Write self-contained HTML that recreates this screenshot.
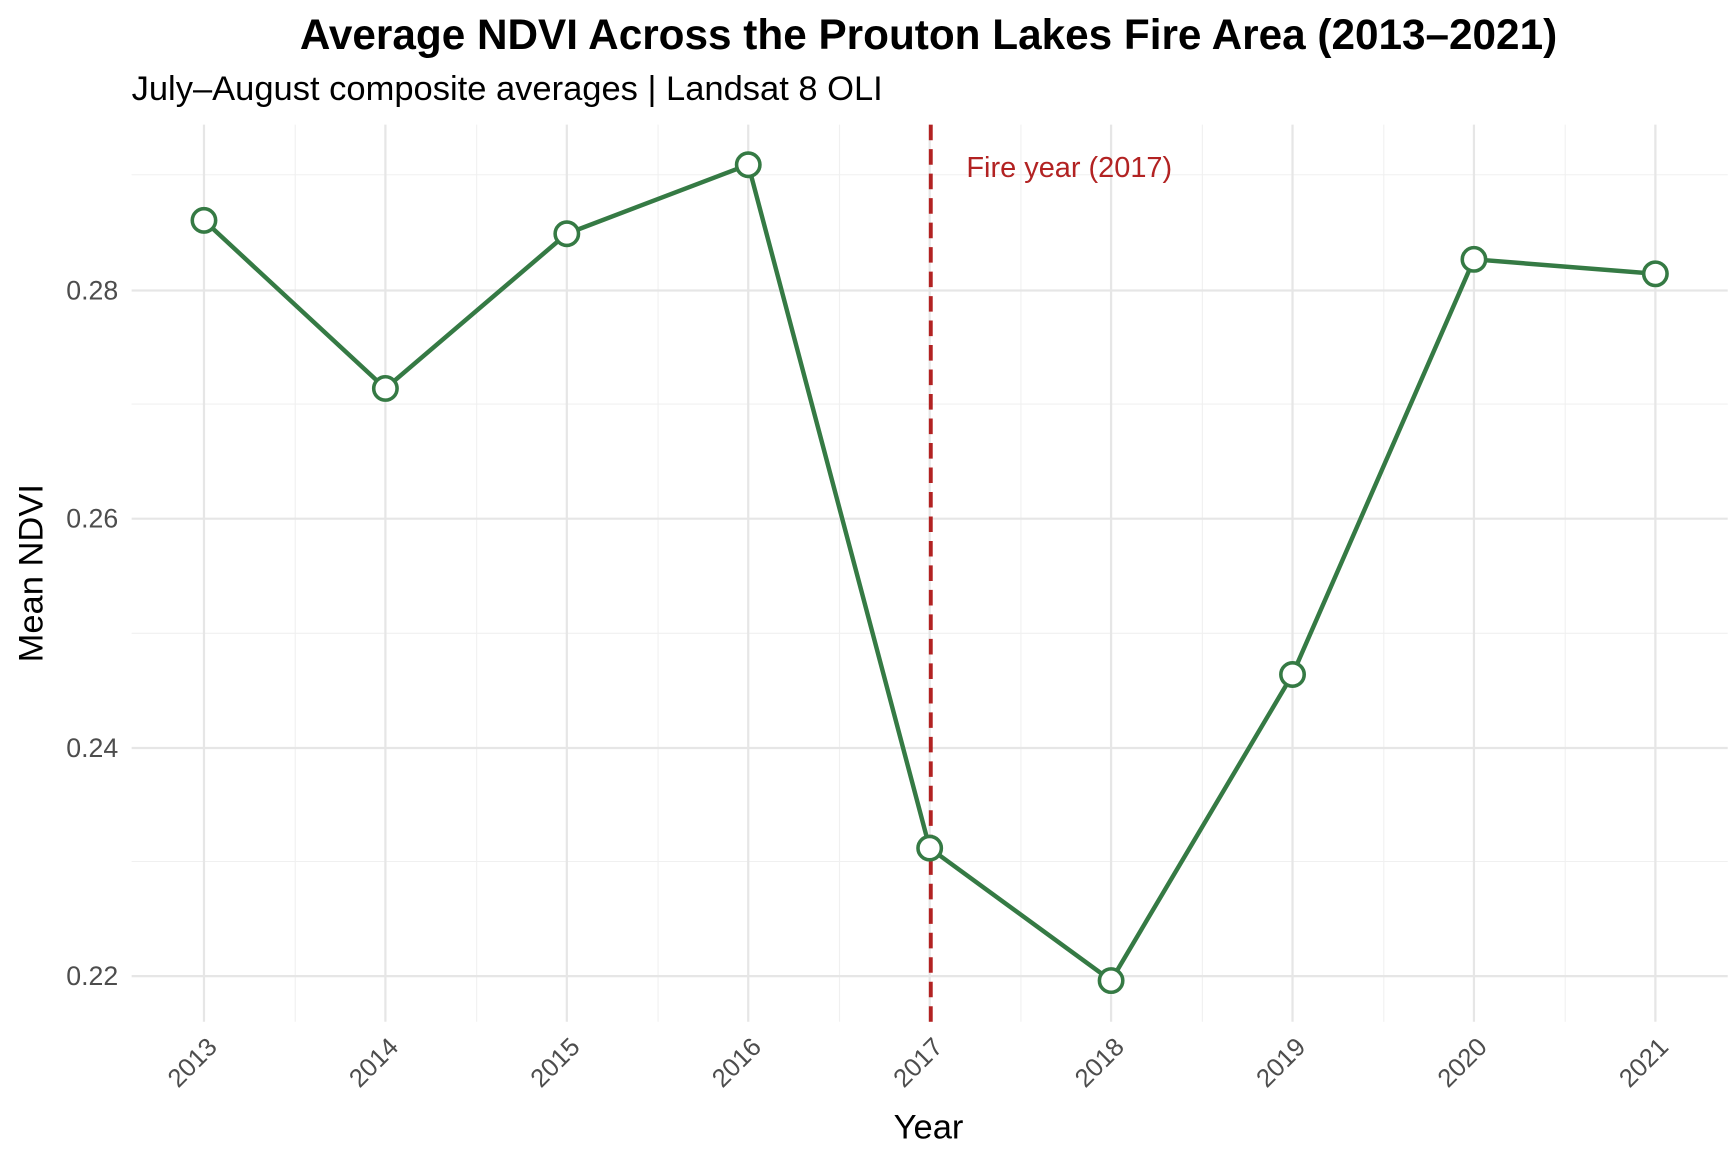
<!DOCTYPE html>
<html><head><style>html,body{margin:0;padding:0;background:#fff}svg{display:block}</style></head>
<body>
<svg width="1728" height="1152" viewBox="0 0 1552 1035" xmlns="http://www.w3.org/2000/svg" font-family="Liberation Sans, Arial, sans-serif">
<rect width="1552" height="1035" fill="#fff"/>
<g stroke="#f0f0f0" stroke-width="1">
<line x1="118" x2="1552" y1="157" y2="157"/><line x1="118" x2="1552" y1="363" y2="363"/><line x1="118" x2="1552" y1="569" y2="569"/><line x1="118" x2="1552" y1="774" y2="774"/>
<line x1="265" x2="265" y1="112" y2="918"/><line x1="428" x2="428" y1="112" y2="918"/><line x1="591" x2="591" y1="112" y2="918"/><line x1="754" x2="754" y1="112" y2="918"/><line x1="917" x2="917" y1="112" y2="918"/><line x1="1080" x2="1080" y1="112" y2="918"/><line x1="1243" x2="1243" y1="112" y2="918"/><line x1="1406" x2="1406" y1="112" y2="918"/>
</g>
<g stroke="#e6e6e6" stroke-width="2">
<line x1="118" x2="1552" y1="261" y2="261"/><line x1="118" x2="1552" y1="466" y2="466"/><line x1="118" x2="1552" y1="672" y2="672"/><line x1="118" x2="1552" y1="877" y2="877"/>
<line x1="183" x2="183" y1="112" y2="918"/><line x1="346" x2="346" y1="112" y2="918"/><line x1="509" x2="509" y1="112" y2="918"/><line x1="672" x2="672" y1="112" y2="918"/><line x1="835" x2="835" y1="112" y2="918"/><line x1="998" x2="998" y1="112" y2="918"/><line x1="1161" x2="1161" y1="112" y2="918"/><line x1="1324" x2="1324" y1="112" y2="918"/><line x1="1487" x2="1487" y1="112" y2="918"/>
</g>
<line x1="836" x2="836" y1="112" y2="918" stroke="#b22222" stroke-width="3.5" stroke-dasharray="14,8"/>
<text x="868" y="159" font-size="26" fill="#b22222">Fire year (2017)</text>
<polyline fill="none" stroke="#357a44" stroke-width="4" stroke-linejoin="round" points="183,198 346,349 509,210 672,148 835,762 998,881 1161,606 1324,233 1487,246"/>
<g fill="#fff" stroke="#357a44" stroke-width="3.2">
<circle cx="183" cy="198" r="10.5"/><circle cx="346" cy="349" r="10.5"/><circle cx="509" cy="210" r="10.5"/><circle cx="672" cy="148" r="10.5"/><circle cx="835" cy="762" r="10.5"/><circle cx="998" cy="881" r="10.5"/><circle cx="1161" cy="606" r="10.5"/><circle cx="1324" cy="233" r="10.5"/><circle cx="1487" cy="246" r="10.5"/>
</g>
<g font-size="24" fill="#4d4d4d" text-anchor="end">
<text x="106" y="269">0.28</text><text x="106" y="474">0.26</text><text x="106" y="680">0.24</text><text x="106" y="885">0.22</text>
</g>
<g font-size="23" fill="#4d4d4d" text-anchor="end">
<text transform="translate(196,942) rotate(-45)">2013</text>
<text transform="translate(359,942) rotate(-45)">2014</text>
<text transform="translate(522,942) rotate(-45)">2015</text>
<text transform="translate(685,942) rotate(-45)">2016</text>
<text transform="translate(848,942) rotate(-45)">2017</text>
<text transform="translate(1011,942) rotate(-45)">2018</text>
<text transform="translate(1174,942) rotate(-45)">2019</text>
<text transform="translate(1337,942) rotate(-45)">2020</text>
<text transform="translate(1500,942) rotate(-45)">2021</text>
</g>
<text x="834" y="1023" font-size="31" text-anchor="middle" fill="#000">Year</text>
<text transform="translate(38,515) rotate(-90)" font-size="31" text-anchor="middle" fill="#000">Mean NDVI</text>
<text x="834" y="44" font-size="38" font-weight="bold" text-anchor="middle" fill="#000">Average NDVI Across the Prouton Lakes Fire Area (2013–2021)</text>
<text x="118" y="90" font-size="31" fill="#000">July–August composite averages | Landsat 8 OLI</text>
</svg>
</body></html>
